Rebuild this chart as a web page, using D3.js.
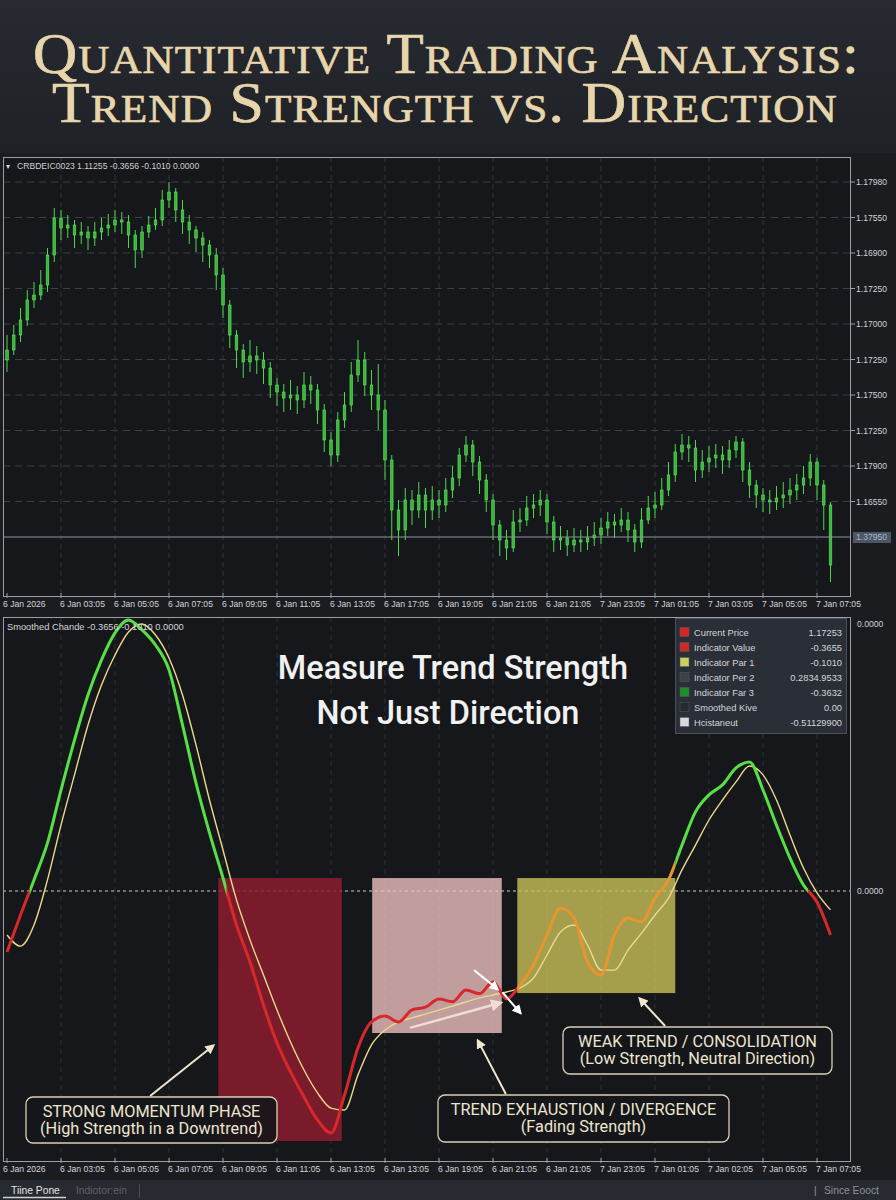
<!DOCTYPE html>
<html lang="en">
<head>
<meta charset="utf-8">
<title>Quantitative Trading Analysis: Trend Strength vs. Direction</title>
<script src="https://cdn.jsdelivr.net/npm/d3@7/dist/d3.min.js"></script>
<style>
body { margin: 0; background: #1a1c20; }
svg { display: block; }
.ui text { font-family: "Liberation Sans", Arial, sans-serif; }
</style>
</head>
<body>
<script>
// ---------- data ----------
var priceOpen0 = 1.17110;
var priceClose = [1.17160,1.17235,1.17310,1.17410,1.17435,1.17485,1.17635,1.17820,1.17770,1.17785,
  1.17735,1.17750,1.17720,1.17750,1.17770,1.17785,1.17810,1.17800,1.17735,1.17660,
  1.17750,1.17785,1.17810,1.17910,1.17950,1.17860,1.17800,1.17760,1.17720,1.17685,
  1.17635,1.17535,1.17385,1.17235,1.17160,1.17100,1.17130,1.17110,1.17070,1.16985,
  1.16950,1.16920,1.16935,1.16910,1.16985,1.16960,1.16860,1.16710,1.16635,1.16810,
  1.16885,1.17035,1.17110,1.16985,1.16935,1.16860,1.16610,1.16360,1.16260,1.16410,
  1.16360,1.16435,1.16360,1.16410,1.16385,1.16460,1.16520,1.16635,1.16685,1.16600,
  1.16510,1.16410,1.16285,1.16210,1.16170,1.16300,1.16310,1.16370,1.16385,1.16410,
  1.16300,1.16210,1.16220,1.16185,1.16210,1.16200,1.16220,1.16235,1.16270,1.16300,
  1.16285,1.16310,1.16260,1.16200,1.16310,1.16370,1.16385,1.16460,1.16535,1.16650,
  1.16685,1.16670,1.16560,1.16600,1.16620,1.16635,1.16610,1.16660,1.16700,1.16560,
  1.16485,1.16435,1.16410,1.16400,1.16420,1.16435,1.16460,1.16485,1.16520,1.16600,
  1.16485,1.16385,1.16085];
var priceHigh = [1.17235,1.17285,1.17370,1.17460,1.17500,1.17560,1.17670,1.17870,1.17860,1.17835,
  1.17810,1.17800,1.17780,1.17800,1.17820,1.17840,1.17860,1.17850,1.17835,1.17760,
  1.17780,1.17830,1.17870,1.17960,1.18000,1.17970,1.17910,1.17835,1.17780,1.17750,
  1.17710,1.17670,1.17570,1.17410,1.17260,1.17190,1.17210,1.17180,1.17150,1.17100,
  1.17020,1.16990,1.17010,1.16980,1.17050,1.17030,1.16990,1.16890,1.16750,1.16850,
  1.16950,1.17100,1.17210,1.17150,1.17060,1.17090,1.16910,1.16635,1.16410,1.16470,
  1.16460,1.16500,1.16470,1.16480,1.16460,1.16520,1.16580,1.16670,1.16730,1.16710,
  1.16630,1.16540,1.16440,1.16310,1.16260,1.16360,1.16370,1.16430,1.16440,1.16460,
  1.16440,1.16330,1.16280,1.16260,1.16270,1.16260,1.16280,1.16300,1.16320,1.16350,
  1.16340,1.16370,1.16350,1.16290,1.16370,1.16430,1.16450,1.16520,1.16600,1.16690,
  1.16740,1.16730,1.16710,1.16660,1.16680,1.16690,1.16680,1.16710,1.16730,1.16720,
  1.16600,1.16510,1.16470,1.16460,1.16480,1.16500,1.16520,1.16540,1.16580,1.16640,
  1.16620,1.16510,1.16400];
var priceLow = [1.17050,1.17135,1.17200,1.17280,1.17370,1.17410,1.17450,1.17600,1.17710,1.17720,
  1.17670,1.17690,1.17660,1.17680,1.17710,1.17730,1.17750,1.17740,1.17670,1.17570,
  1.17620,1.17720,1.17760,1.17780,1.17870,1.17800,1.17740,1.17690,1.17650,1.17600,
  1.17570,1.17460,1.17320,1.17170,1.17070,1.17020,1.17050,1.17040,1.16990,1.16920,
  1.16880,1.16850,1.16860,1.16840,1.16870,1.16890,1.16790,1.16650,1.16580,1.16600,
  1.16770,1.16850,1.17000,1.16930,1.16860,1.16760,1.16510,1.16210,1.16130,1.16210,
  1.16285,1.16320,1.16270,1.16310,1.16320,1.16350,1.16420,1.16480,1.16600,1.16530,
  1.16440,1.16350,1.16210,1.16130,1.16110,1.16150,1.16250,1.16280,1.16320,1.16330,
  1.16240,1.16150,1.16160,1.16130,1.16150,1.16150,1.16160,1.16180,1.16190,1.16230,
  1.16220,1.16250,1.16200,1.16150,1.16170,1.16290,1.16320,1.16360,1.16430,1.16500,
  1.16610,1.16600,1.16500,1.16520,1.16550,1.16570,1.16540,1.16570,1.16620,1.16500,
  1.16420,1.16370,1.16350,1.16340,1.16360,1.16370,1.16390,1.16410,1.16440,1.16480,
  1.16410,1.16260,1.16000];
var currentPrice = 1.16225;
var currentPriceLabel = "1.37950";
var priceTickLabels = ["1.17980","1.17550","1.16900","1.17250","1.17000","1.17250","1.17500","1.17250","1.17900","1.16550"];

var topTimeLabels = ["6 Jan 2026","6 Jan 03:05","6 Jan 05:05","6 Jan 07:05","6 Jan 09:05","6 Jan 11:05","6 Jan 13:05","6 Jan 17:05",
  "6 Jan 19:05","6 Jan 21:05","6 Jan 21:05","7 Jan 23:05","7 Jan 01:05","7 Jan 03:05","7 Jan 05:05","7 Jan 07:05"];
var bottomTimeLabels = ["6 Jan 2026","6 Jan 03:05","6 Jan 05:05","6 Jan 07:05","6 Jan 09:05","6 Jan 11:05","6 Jan 13:05","6 Jan 13:05",
  "6 Jan 19:05","6 Jan 21:05","6 Jan 21:05","7 Jan 23:05","7 Jan 01:05","7 Jan 02:05","7 Jan 05:05","7 Jan 07:05"];

// smoothed indicator, one point every 2 bars
var indMain = [-0.226,-0.089,0.041,0.178,0.374,0.559,0.726,0.856,0.956,1.004,
  0.967,0.911,0.819,0.615,0.400,0.215,0.048,-0.126,-0.263,-0.422,
  -0.563,-0.670,-0.763,-0.848,-0.896,-0.756,-0.581,-0.485,-0.463,-0.485,
  -0.440,-0.430,-0.400,-0.410,-0.367,-0.380,-0.337,-0.400,-0.348,-0.274,
  -0.163,-0.063,-0.100,-0.263,-0.311,-0.163,-0.100,-0.115,-0.026,0.041,
  0.170,0.293,0.356,0.393,0.456,0.478,0.374,0.244,0.122,0.022,
  -0.041,-0.163];
var indSignal = [-0.163,-0.204,-0.126,0.041,0.244,0.430,0.615,0.763,0.874,0.959,
  0.989,0.948,0.863,0.726,0.541,0.337,0.152,-0.033,-0.181,-0.311,
  -0.441,-0.559,-0.663,-0.748,-0.804,-0.811,-0.681,-0.570,-0.515,-0.485,
  -0.470,-0.456,-0.441,-0.426,-0.411,-0.396,-0.385,-0.374,-0.359,-0.322,
  -0.237,-0.152,-0.126,-0.200,-0.293,-0.293,-0.219,-0.156,-0.089,-0.026,
  0.078,0.170,0.263,0.337,0.404,0.463,0.430,0.337,0.207,0.085,
  -0.007,-0.070];
var indTickValues = [0.99, 0];
var indTickLabels = ["0.0000", "0.0000"];

// highlighted phases (bar index range, indicator value range)
var zoneStart = [31.3, 54.1, 75.6];
var zoneEnd = [49.6, 73.3, 99.0];
var zoneTop = [0.048, 0.048, 0.048];
var zoneBottom = [-0.926, -0.526, -0.378];

var legendNames = ["Current Price","Indicator Value","Indicator Par 1","Indicator Per 2","Indicator Far 3","Smoothed Kive","Hcistaneut"];
var legendValues = ["1.17253","-0.3655","-0.1010","0.2834.9533","-0.3632","0.00","-0.51129900"];
var legendColors = ["#d42424","#cc2a2a","#c9d063","#3b404a","#1f8c2b","#242933","#d9d9d9"];

// ---------- layout ----------
var W = 896, H = 1200;
var pp = {x: 3, y: 157, w: 848, h: 440};   // price panel
var ip = {x: 3, y: 617, w: 848, h: 545};   // indicator panel

var svg = d3.select('body').append('svg')
    .attr('width', W)
    .attr('height', H);
var defs = svg.append('defs');

//backgrounds
svg.append('rect').attr('width', W).attr('height', H).attr('fill', '#1a1c20');
var tg = defs.append('linearGradient').attr('id', 'titleBg')
    .attr('x1', 0).attr('y1', 0).attr('x2', 0).attr('y2', 1);
tg.append('stop').attr('offset', '0%').attr('stop-color', '#272a30');
tg.append('stop').attr('offset', '100%').attr('stop-color', '#1e2126');
svg.append('rect').attr('width', W).attr('height', 153).attr('fill', 'url(#titleBg)');

//scales
var x = d3.scaleLinear().domain([0, 124]).range([7, 844]);
var yPrice = d3.scaleLinear().domain([1.16, 1.18]).range([582, 182]);
var yInd = d3.scaleLinear().domain([-1, 1]).range([1161, 621]);
var timeTicks = d3.range(0, 121, 8);
var priceGrid = d3.range(10).map(function(i) { return 1.18 - i * 0.001775; });

// ---------- title ----------
var titleLines = ["Quantitative Trading Analysis:", "Trend Strength vs. Direction"];
var titleLeft = [33, 52], titleRight = [862, 843], titleBase = [73, 122];
titleLines.forEach(function(line, i) {
    var txt = svg.append('text')
        .attr('fill', '#e7d5ab')
        .attr('stroke', '#e7d5ab').attr('stroke-width', 0.7)
        .attr('font-size', 58)
        .style('font-family', '"Liberation Serif", "DejaVu Serif", serif')
        .style('font-variant', 'small-caps')
        .style('letter-spacing', '1px')
        .text(line);
    var len = txt.node().getComputedTextLength();
    var sx = (titleRight[i] - titleLeft[i]) / len;
    txt.attr('transform', 'translate(' + titleLeft[i] + ',' + titleBase[i] + ') scale(' + sx + ',1)');
});

// ---------- price panel ----------
var ui = svg.append('g').attr('class', 'ui');

ui.append('rect').attr('x', pp.x).attr('y', pp.y).attr('width', pp.w).attr('height', pp.h).attr('fill', '#15171b');
defs.append('clipPath').attr('id', 'clipPrice').append('rect')
    .attr('x', pp.x).attr('y', pp.y).attr('width', pp.w).attr('height', pp.h);

//grid
ui.selectAll('.pgridH').data(priceGrid).enter().append('line')
    .attr('x1', pp.x).attr('x2', pp.x + pp.w)
    .attr('y1', function(d) { return yPrice(d); }).attr('y2', function(d) { return yPrice(d); })
    .attr('stroke', '#3a3e46').attr('stroke-width', 1).attr('stroke-dasharray', '7,5');
ui.selectAll('.pgridV').data(timeTicks.slice(1)).enter().append('line')
    .attr('x1', function(d) { return x(d); }).attr('x2', function(d) { return x(d); })
    .attr('y1', pp.y).attr('y2', pp.y + pp.h)
    .attr('stroke', '#33363d').attr('stroke-width', 1).attr('stroke-dasharray', '5,4');

//candles
var candles = priceClose.map(function(c, i) {
    return {t: i, o: i ? priceClose[i - 1] : priceOpen0, h: priceHigh[i], l: priceLow[i], c: c};
});
var cg = ui.append('g').attr('clip-path', 'url(#clipPrice)');
cg.selectAll('.wick').data(candles).enter().append('line')
    .attr('x1', function(d) { return x(d.t); }).attr('x2', function(d) { return x(d.t); })
    .attr('y1', function(d) { return yPrice(d.h); }).attr('y2', function(d) { return yPrice(d.l); })
    .attr('stroke', '#4fd64f').attr('stroke-width', 1);
cg.selectAll('.body').data(candles).enter().append('rect')
    .attr('x', function(d) { return x(d.t) - 1.3; })
    .attr('width', 2.6)
    .attr('y', function(d) { return yPrice(Math.max(d.o, d.c)); })
    .attr('height', function(d) { return Math.max(1.2, Math.abs(yPrice(d.o) - yPrice(d.c))); })
    .attr('fill', '#37b538').attr('stroke', '#62e862').attr('stroke-width', 0.6);

//current price line
ui.append('line').attr('x1', pp.x).attr('x2', pp.x + pp.w)
    .attr('y1', yPrice(currentPrice)).attr('y2', yPrice(currentPrice))
    .attr('stroke', '#8d939c').attr('stroke-width', 1);

//frame
ui.append('rect').attr('x', pp.x + 0.5).attr('y', pp.y + 0.5).attr('width', pp.w - 1).attr('height', pp.h - 1)
    .attr('fill', 'none').attr('stroke', '#9a9fa7').attr('stroke-width', 1);

//right axis
ui.selectAll('.ptick').data(priceGrid).enter().append('line')
    .attr('x1', pp.x + pp.w).attr('x2', pp.x + pp.w + 4)
    .attr('y1', function(d) { return yPrice(d); }).attr('y2', function(d) { return yPrice(d); })
    .attr('stroke', '#9a9fa7');
ui.selectAll('.plabel').data(priceGrid).enter().append('text')
    .attr('x', 856).attr('y', function(d) { return yPrice(d) + 3; })
    .attr('fill', '#cfd2d6').attr('font-size', 8.6)
    .text(function(d, i) { return priceTickLabels[i]; });
ui.append('rect').attr('x', 853).attr('y', yPrice(currentPrice) - 5).attr('width', 38).attr('height', 11)
    .attr('fill', '#4d5665');
ui.append('text').attr('x', 856).attr('y', yPrice(currentPrice) + 3)
    .attr('fill', '#a9b6c8').attr('font-size', 8.6).text(currentPriceLabel);

//header
ui.append('text').attr('x', 6).attr('y', 169).attr('fill', '#d6d6d6').attr('font-size', 8).text('\u25BE');
ui.append('text').attr('x', 17).attr('y', 169).attr('fill', '#cfcfcf').attr('font-size', 8.6).text('CRBDEIC0023');
ui.append('text').attr('x', 77).attr('y', 169).attr('fill', '#cfcfcf').attr('font-size', 8.6).text('1.11255 -0.3656 -0.1010 0.0000');

//time axis
function timeAxis(yBottom, labels) {
    ui.selectAll(null).data(timeTicks).enter().append('line')
        .attr('x1', function(d) { return x(d); }).attr('x2', function(d) { return x(d); })
        .attr('y1', yBottom - 4).attr('y2', yBottom + 1)
        .attr('stroke', '#9a9fa7');
    ui.selectAll(null).data(timeTicks).enter().append('text')
        .attr('x', function(d, i) { return i ? x(d) - 1 : x(d) - 4; })
        .attr('y', yBottom + 10)
        .attr('fill', '#d4d6d9').attr('font-size', 8.6)
        .text(function(d, i) { return labels[i]; });
}
timeAxis(pp.y + pp.h, topTimeLabels);

// ---------- indicator panel ----------
ui.append('rect').attr('x', ip.x).attr('y', ip.y).attr('width', ip.w).attr('height', ip.h).attr('fill', '#15171b');
defs.append('clipPath').attr('id', 'clipInd').append('rect')
    .attr('x', ip.x).attr('y', ip.y).attr('width', ip.w).attr('height', ip.h);

ui.selectAll('.igridV').data(timeTicks.slice(1)).enter().append('line')
    .attr('x1', function(d) { return x(d); }).attr('x2', function(d) { return x(d); })
    .attr('y1', ip.y).attr('y2', ip.y + ip.h)
    .attr('stroke', '#30333a').attr('stroke-width', 1).attr('stroke-dasharray', '5,4');

//zero line
ui.append('line').attr('x1', ip.x).attr('x2', ip.x + ip.w)
    .attr('y1', yInd(0)).attr('y2', yInd(0))
    .attr('stroke', '#cfcfcf').attr('stroke-width', 1).attr('stroke-dasharray', '3,3');

//phase zones
var zoneFill = ['#8c1c2f', '#f2c3c3', '#c9c15a'];
var zoneOpacity = [0.85, 0.78, 0.8];
var zoneG = ui.append('g').attr('clip-path', 'url(#clipInd)');
zoneG.selectAll('rect').data(zoneStart).enter().append('rect')
    .attr('x', function(d) { return x(d); })
    .attr('width', function(d, i) { return x(zoneEnd[i]) - x(d); })
    .attr('y', function(d, i) { return yInd(zoneTop[i]); })
    .attr('height', function(d, i) { return yInd(zoneBottom[i]) - yInd(zoneTop[i]); })
    .attr('fill', function(d, i) { return zoneFill[i]; })
    .attr('opacity', function(d, i) { return zoneOpacity[i]; });

//indicator lines
var indPts = indMain.map(function(v, k) { return {t: k * 2, v: v, s: indSignal[k]}; });
var lineMain = d3.line().x(function(d) { return x(d.t); }).y(function(d) { return yInd(d.v); }).curve(d3.curveMonotoneX);
var lineSig = d3.line().x(function(d) { return x(d.t); }).y(function(d) { return yInd(d.s); }).curve(d3.curveMonotoneX);

var lg = ui.append('g').attr('clip-path', 'url(#clipInd)');
lg.append('path').datum(indPts).attr('d', lineSig)
    .attr('fill', 'none').attr('stroke', '#ecd98a').attr('stroke-width', 1.4);

//split main line into coloured runs: above zero green, below red, weak phase orange
var cuts = [];
for (var k = 0; k < indPts.length - 1; k++) {
    var a = indPts[k], b = indPts[k + 1];
    if ((a.v < 0) !== (b.v < 0)) cuts.push(a.t + (b.t - a.t) * a.v / (a.v - b.v));
}
cuts.push(zoneStart[2], zoneEnd[2]);
cuts.sort(d3.ascending);
var bounds = [indPts[0].t - 1].concat(cuts, [indPts[indPts.length - 1].t + 1]);
function valueAt(t) {
    var i = Math.max(0, Math.min(Math.floor(t / 2), indPts.length - 2));
    var f = (t - indPts[i].t) / 2;
    return indPts[i].v * (1 - f) + indPts[i + 1].v * f;
}
for (var r = 0; r < bounds.length - 1; r++) {
    var t0 = bounds[r], t1 = bounds[r + 1], mid = (t0 + t1) / 2;
    var col;
    if (mid > zoneStart[2] && mid < zoneEnd[2]) col = '#e8952f';
    else col = valueAt(mid) >= 0 ? '#57e046' : '#d8282a';
    var cid = 'seg' + r;
    defs.append('clipPath').attr('id', cid).append('rect')
        .attr('x', x(t0)).attr('width', x(t1) - x(t0))
        .attr('y', ip.y).attr('height', ip.h);
    lg.append('path').datum(indPts).attr('d', lineMain)
        .attr('clip-path', 'url(#' + cid + ')')
        .attr('fill', 'none').attr('stroke', col).attr('stroke-width', 3)
        .attr('stroke-linejoin', 'round');
}

//arrow markers
function marker(id, color) {
    defs.append('marker').attr('id', id)
        .attr('viewBox', '0 0 10 10').attr('refX', 7).attr('refY', 5)
        .attr('markerWidth', 5).attr('markerHeight', 5).attr('orient', 'auto')
        .append('path').attr('d', 'M0,0 L10,5 L0,10 z').attr('fill', color);
}
marker('arCream', '#efe6cc');
marker('arWhite', '#ffffff');
marker('arPale', '#f3dcd2');

//divergence arrows inside the exhaustion phase
var divArrows = [
    {from: [59.7, -0.507], to: [73.0, -0.415], color: '#f3dcd2', w: 2.5, m: 'arPale'},
    {from: [69.2, -0.293], to: [72.6, -0.362], color: '#ffffff', w: 2, m: 'arWhite'},
    {from: [73.4, -0.375], to: [76.0, -0.450], color: '#ffffff', w: 2, m: 'arWhite'}
];
lg.selectAll('.div').data(divArrows).enter().append('line')
    .attr('x1', function(d) { return x(d.from[0]); }).attr('y1', function(d) { return yInd(d.from[1]); })
    .attr('x2', function(d) { return x(d.to[0]); }).attr('y2', function(d) { return yInd(d.to[1]); })
    .attr('stroke', function(d) { return d.color; }).attr('stroke-width', function(d) { return d.w; })
    .attr('marker-end', function(d) { return 'url(#' + d.m + ')'; });

//headline
var head = svg.append('g').style('font-family', 'Roboto, "Noto Sans", sans-serif').attr('fill', '#f1f1f1');
head.append('text').attr('x', 453).attr('y', 679).attr('text-anchor', 'middle')
    .attr('font-size', 32.5).attr('font-weight', 500).text('Measure Trend Strength');
head.append('text').attr('x', 448).attr('y', 724).attr('text-anchor', 'middle')
    .attr('font-size', 32.5).attr('font-weight', 500).text('Not Just Direction');

//callouts
var callouts = [
    {cx: 151.5, top: 1097, w: 251, h: 46, lines: ['STRONG MOMENTUM PHASE', '(High Strength in a Downtrend)'], from: [21.2, -0.759], to: [30.5, -0.574]},
    {cx: 583.5, top: 1095, w: 291, h: 47, lines: ['TREND EXHAUSTION / DIVERGENCE', '(Fading Strength)'], from: [73.9, -0.752], to: [69.8, -0.556]},
    {cx: 697.5, top: 1027, w: 269, h: 47, lines: ['WEAK TREND / CONSOLIDATION', '(Low Strength, Neutral Direction)'], from: [97.5, -0.500], to: [93.8, -0.400]}
];
var cg2 = svg.append('g');
cg2.selectAll('.carrow').data(callouts).enter().append('line')
    .attr('x1', function(d) { return x(d.from[0]); }).attr('y1', function(d) { return yInd(d.from[1]); })
    .attr('x2', function(d) { return x(d.to[0]); }).attr('y2', function(d) { return yInd(d.to[1]); })
    .attr('stroke', '#efe6cc').attr('stroke-width', 2).attr('marker-end', 'url(#arCream)');
var cbox = cg2.selectAll('.cbox').data(callouts).enter().append('g');
cbox.append('rect')
    .attr('x', function(d) { return d.cx - d.w / 2; }).attr('y', function(d) { return d.top; })
    .attr('width', function(d) { return d.w; }).attr('height', function(d) { return d.h; })
    .attr('rx', 7).attr('fill', '#141619').attr('fill-opacity', 0.9)
    .attr('stroke', '#d9d0b6').attr('stroke-width', 1.3);
cbox.each(function(d) {
    var g = d3.select(this);
    d.lines.forEach(function(s, i) {
        g.append('text').attr('x', d.cx).attr('y', d.top + 20 + i * 17)
            .attr('text-anchor', 'middle').attr('fill', '#ede5d0')
            .style('font-family', 'Roboto, "Noto Sans", sans-serif').attr('font-size', 16.3)
            .text(s);
    });
});

//legend
var lgd = ui.append('g');
lgd.append('rect').attr('x', 675.5).attr('y', 618.5).attr('width', 171).attr('height', 115)
    .attr('fill', '#2c3038').attr('fill-opacity', 0.93).attr('stroke', '#4b5059');
var rows = lgd.selectAll('.row').data(legendNames).enter().append('g')
    .attr('transform', function(d, i) { return 'translate(0,' + (632 + i * 15) + ')'; });
rows.append('rect').attr('x', 680).attr('y', -4.5).attr('width', 9).attr('height', 9)
    .attr('fill', function(d, i) { return legendColors[i]; }).attr('stroke', '#555a63').attr('stroke-width', 0.5);
rows.append('text').attr('x', 694).attr('y', 3.5).attr('fill', '#d4d6da').attr('font-size', 9.3)
    .text(function(d) { return d; });
rows.append('text').attr('x', 842).attr('y', 3.5).attr('text-anchor', 'end').attr('fill', '#d4d6da').attr('font-size', 9.3)
    .text(function(d, i) { return legendValues[i]; });

//indicator frame & axis
ui.append('rect').attr('x', ip.x + 0.5).attr('y', ip.y + 0.5).attr('width', ip.w - 1).attr('height', ip.h - 1)
    .attr('fill', 'none').attr('stroke', '#9a9fa7').attr('stroke-width', 1);
ui.selectAll('.ilabel').data(indTickValues).enter().append('text')
    .attr('x', 857).attr('y', function(d) { return yInd(d) + 3; })
    .attr('fill', '#cfd2d6').attr('font-size', 8.6)
    .text(function(d, i) { return indTickLabels[i]; });
ui.append('text').attr('x', 7).attr('y', 630).attr('fill', '#d6d6d6').attr('font-size', 9.3)
    .text('Smoothed Chande -0.3656 -0.1010 0.0000');

timeAxis(ip.y + ip.h, bottomTimeLabels);

// ---------- status bar ----------
ui.append('rect').attr('x', 0).attr('y', 1180).attr('width', W).attr('height', 20).attr('fill', '#272a30');
ui.append('text').attr('x', 11).attr('y', 1194).attr('fill', '#e4e4e4').attr('font-size', 10.3).text('Tiine Pone');
ui.append('line').attr('x1', 3).attr('x2', 66).attr('y1', 1197.5).attr('y2', 1197.5).attr('stroke', '#d0d0d0').attr('stroke-width', 1.5);
ui.append('text').attr('x', 76).attr('y', 1194).attr('fill', '#5c6068').attr('font-size', 10.3).text('Indiotor:ein');
ui.append('line').attr('x1', 139.5).attr('x2', 139.5).attr('y1', 1184).attr('y2', 1198).attr('stroke', '#4a4e56');
ui.append('text').attr('x', 814).attr('y', 1194).attr('fill', '#8d9097').attr('font-size', 10.3).text('|');
ui.append('text').attr('x', 824).attr('y', 1194).attr('fill', '#8d9097').attr('font-size', 10.3).text('Since Eooct');
</script>
</body>
</html>
